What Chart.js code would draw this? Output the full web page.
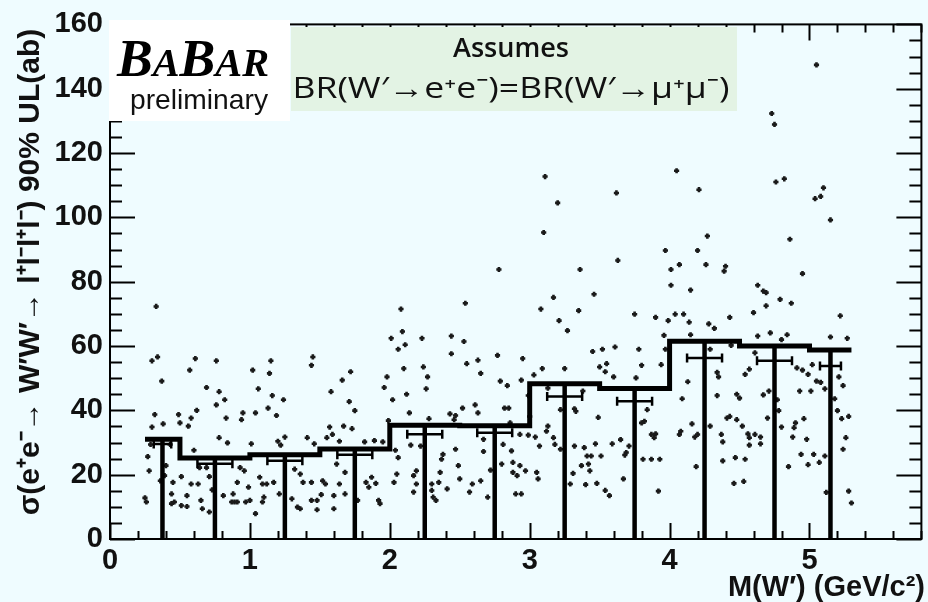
<!DOCTYPE html>
<html>
<head>
<meta charset="utf-8">
<script src="https://cdn.jsdelivr.net/npm/chart.js@4.4.1/dist/chart.umd.min.js"></script>
<style>
  html, body { margin: 0; padding: 0; background: #effcff; }
  #wrap { width: 928px; height: 602px; }
</style>
</head>
<body>
<div id="wrap"><canvas id="chart" width="928" height="602"></canvas></div>
<script>
// bin edges of M(W') in GeV/c^2
const massBins = [0.25, 0.5, 1, 1.5, 2, 2.5, 3, 3.5, 4, 4.5, 5, 5.3];
// thick bars: 90% UL per bin (ab)
const binLimit = [31, 25.2, 26.2, 28, 35.4, 35.2, 48.3, 46.8, 61.5, 60, 58.8];
// thin bars: median per bin (ab)
const binMedian = [29.5, 23.4, 24.3, 26.2, 32.6, 33, 44.3, 42.8, 56.3, 55.4, 53.8];

// scanned points: mass (GeV/c^2) and limit (ab)
const scanMass = [
  0.33,0.30,0.34,0.37,0.32,0.38,0.30,0.27,0.28,0.25,0.26,0.57,0.61,0.69,0.62,0.58,0.56,0.49,0.50,0.60,
  0.51,0.45,0.44,0.44,0.51,0.55,0.55,0.58,0.63,0.64,0.69,0.71,0.65,0.66,0.71,0.73,0.76,0.78,0.82,0.76,
  0.83,0.78,0.84,0.81,0.87,0.89,0.91,0.88,0.94,0.95,0.93,0.96,0.91,0.99,0.97,1.00,1.04,1.02,1.06,1.04,
  1.01,1.07,1.09,1.12,1.10,1.09,1.15,1.14,1.16,1.24,1.13,1.19,1.20,1.22,1.25,1.17,1.21,1.32,1.36,1.30,
  1.34,1.36,0.39,0.36,0.46,0.40,0.29,0.43,
  2.08,1.45,1.44,1.72,1.66,1.58,1.71,1.75,1.67,1.73,1.57,1.59,1.55,1.41,1.46,1.64,1.82,1.89,1.95,1.99,
  2.01,2.09,2.11,2.06,2.10,1.98,1.96,2.02,2.12,2.14,2.23,2.24,2.27,2.26,2.28,2.44,2.53,2.54,2.44,2.55,
  2.63,2.65,2.61,2.63,2.52,2.43,2.47,2.46,2.06,2.04,2.15,2.22,2.38,2.37,2.47,2.49,2.67,2.72,2.67,1.38,
  1.44,1.52,1.54,1.62,1.68,1.64,1.51,1.48,1.44,1.48,1.60,1.68,1.60,1.83,1.85,1.87,1.90,1.92,1.93,2.03,
  2.05,2.19,2.17,2.19,2.17,2.30,2.31,2.33,2.30,2.35,2.36,2.41,2.50,2.59,2.57,2.65,2.70,1.77,
  3.17,3.46,3.08,3.35,3.21,3.27,3.75,3.90,3.99,4.04,3.96,2.77,2.95,3.09,3.03,3.25,3.45,3.52,3.61,3.78,
  3.97,3.50,3.55,3.54,3.60,3.76,3.80,3.94,2.79,2.84,2.94,2.99,3.32,3.33,3.22,3.49,3.84,3.82,3.80,2.82,
  2.85,3.00,2.86,2.93,2.99,3.04,3.13,3.12,3.17,3.18,3.07,2.81,2.87,3.22,3.32,3.39,3.47,3.41,3.44,3.51,
  3.59,3.65,3.71,3.69,3.68,3.87,3.89,3.90,3.81,3.87,3.93,2.80,2.88,2.93,2.97,2.88,2.91,3.05,3.06,2.90,
  2.94,3.37,3.42,3.43,3.31,3.29,3.40,3.48,3.54,3.57,3.67,3.92,3.13,3.38,
  4.69,4.79,4.87,4.69,4.60,4.43,4.10,4.14,4.28,4.32,5.22,4.15,4.63,4.72,4.84,4.80,5.15,5.27,4.44,4.61,
  4.29,4.57,4.54,4.34,4.35,4.91,4.95,4.99,5.02,5.05,5.08,5.11,5.21,5.24,4.13,4.09,4.34,4.48,4.50,4.67,
  4.71,4.77,4.78,4.93,5.01,5.18,5.20,5.23,5.28,4.43,4.41,4.48,4.52,4.29,4.16,4.08,4.07,4.18,4.20,4.37,
  4.38,4.56,4.57,4.61,4.65,4.65,4.57,4.70,4.80,4.90,4.96,4.88,4.89,4.98,5.26,5.24,4.94,5.03,5.07,4.99,
  5.11,4.19,4.38,4.47,4.54,4.85,4.46,4.53,5.12,5.28,5.30,
  5.05,4.73,4.75,4.05,3.11,3.20,3.62,4.21,4.76,4.82,5.10,5.04,5.08,5.15,3.10,4.27,4.86,3.97,4.20,3.63,
  4.07,4.01,4.26,4.40,4.39,3.36,4.95,4.01,4.15,4.63,4.67,2.78
];
const scanLimit = [
  72.3,55.4,56.6,49.1,38.7,35.8,34.8,25.6,21.2,12.8,11.5,52.5,56.1,47.1,40.0,37.6,35.1,38.7,36.1,27.6,
  19.4,17.6,14.0,11.0,10.4,10.1,13.5,17.1,17.1,22.2,22.2,19.4,12.0,9.4,8.4,15.3,55.4,45.8,43.3,41.7,
  37.6,31.5,29.9,13.5,11.5,11.5,11.5,14.0,37.1,39.2,22.2,21.2,17.6,16.1,11.5,12.0,7.9,52.5,46.7,39.2,
  29.6,19.2,17.1,17.1,13.0,11.5,55.4,51.5,44.6,43.3,40.7,38.4,30.4,29.2,31.7,17.6,14.0,21.7,20.2,12.5,
  9.9,9.4,19.7,18.1,11.5,22.8,29.4,29.4,
  71.5,56.6,54.0,52.0,49.4,45.8,42.7,39.9,35.1,34.3,34.8,32.5,31.5,31.5,29.6,30.4,30.2,30.6,30.2,36.8,
  62.4,64.5,60.4,59.0,53.0,50.4,47.1,43.3,45.0,39.2,62.4,53.5,50.4,46.7,37.4,63.1,61.4,73.3,57.6,54.5,
  55.6,51.5,41.7,39.2,40.7,38.9,38.4,37.1,25.3,27.6,29.2,28.9,26.3,24.8,27.9,22.8,27.2,21.4,31.0,17.6,
  17.6,18.1,17.1,23.3,20.7,17.1,13.8,12.0,12.0,9.1,13.5,14.0,9.4,17.6,16.1,19.2,17.3,12.0,11.0,17.6,
  20.2,21.2,19.7,17.1,14.6,15.1,13.0,12.0,17.1,17.6,20.7,15.6,18.7,17.1,14.6,18.1,13.0,12.0,
  75.1,76.1,71.5,71.0,67.9,64.8,69.9,68.9,67.9,69.9,63.3,57.1,56.1,53.0,51.0,53.0,58.3,59.0,59.7,59.0,
  59.0,53.5,54.5,52.0,50.4,50.1,54.0,54.2,49.1,47.7,49.4,44.6,40.5,39.7,40.2,37.8,40.2,36.6,36.1,40.7,
  40.7,38.1,36.1,32.5,32.3,31.7,35.1,33.5,31.5,29.4,28.9,29.4,27.4,27.9,28.9,28.4,29.6,25.8,25.8,25.8,
  29.6,30.9,28.9,26.9,26.1,32.5,31.5,32.7,24.8,24.8,24.8,23.3,23.8,22.8,21.2,20.7,19.7,20.7,18.7,14.0,
  14.0,22.8,23.3,21.2,20.4,17.1,16.9,17.3,15.1,13.5,18.7,14.9,46.9,46.0,
  76.6,74.5,73.3,72.5,70.4,68.9,69.9,67.4,66.9,65.5,69.4,63.5,63.1,64.1,63.5,62.0,62.8,62.4,60.2,57.9,
  59.0,52.8,51.2,51.8,50.4,53.2,52.5,51.2,54.2,49.1,48.7,46.7,50.4,47.7,48.9,43.6,44.6,45.0,43.8,44.8,
  46.0,43.3,39.9,46.0,46.0,43.6,39.9,37.4,38.1,38.1,37.6,37.1,35.1,35.1,35.8,33.5,32.5,31.7,32.5,32.5,
  30.2,32.7,31.5,32.5,31.7,29.6,29.2,37.6,34.8,36.1,37.4,31.7,34.6,31.0,31.5,27.9,26.3,26.3,23.8,23.1,
  25.8,22.5,24.3,25.3,24.8,22.5,17.3,17.9,14.5,14.9,11.2,
  147.4,132.3,128.9,114.5,112.7,104.5,107.6,108.6,111.0,112.0,109.2,105.8,106.5,99.2,95.3,94.2,93.2,89.7,89.7,86.6,
  85.3,83.8,85.3,84.8,83.3,83.8,82.5,78.9,77.4,78.9,77.1,83.8
];

const xTickLabels = ['0', '1', '2', '3', '4', '5'];
const yTickLabels = ['0', '20', '40', '60', '80', '100', '120', '140', '160'];

const ink = '#111111';
const axisFont = { family: 'Liberation Sans, Arial, sans-serif', size: 29, weight: 'bold' };

// build the marks from the arrays
const points = scanMass.map((m, i) => ({ x: m, y: scanLimit[i] }));

const stepLine = [];
const stems = [];
const errBars = [];
for (let i = 0; i < binLimit.length; i++) {
  const lo = massBins[i], hi = massBins[i + 1];
  const c = (lo + hi) / 2, w = (hi - lo) / 4, m = binMedian[i];
  stepLine.push({ x: lo, y: binLimit[i] }, { x: hi, y: binLimit[i] });
  stems.push({ x: c, y: 0 }, { x: c, y: binLimit[i] }, { x: c, y: null });
  errBars.push(
    { x: c - w, y: m }, { x: c + w, y: m }, { x: c + w, y: null },
    { x: c - w, y: m - 1.4 }, { x: c - w, y: m + 1.4 }, { x: c - w, y: null },
    { x: c + w, y: m - 1.4 }, { x: c + w, y: m + 1.4 }, { x: c + w, y: null }
  );
}

function lineSet(data, width, order) {
  return {
    type: 'line', data: data, borderColor: '#000', borderWidth: width,
    pointRadius: 0, fill: false, tension: 0, spanGaps: false,
    borderCapStyle: 'butt', borderJoinStyle: 'miter', order: order
  };
}

// draw text squeezed/stretched to a given width
function fitText(ctx, text, cx, y, width) {
  const w = ctx.measureText(text).width;
  ctx.save();
  ctx.translate(cx, y);
  ctx.scale(width / w, 1);
  ctx.textAlign = 'center';
  ctx.fillText(text, 0, 0);
  ctx.restore();
}

// background, frame with inward ticks, boxes and titles
const decor = {
  id: 'decor',
  beforeDraw(chart) {
    const ctx = chart.ctx;
    ctx.save();
    ctx.fillStyle = '#effcff';
    ctx.fillRect(0, 0, chart.width, chart.height);
    ctx.restore();
  },
  afterDatasetsDraw(chart) {
    const ctx = chart.ctx, a = chart.chartArea;
    const xs = chart.scales.x, ys = chart.scales.y;
    ctx.save();
    ctx.strokeStyle = '#000';
    ctx.lineWidth = 2;
    ctx.strokeRect(a.left, a.top, a.right - a.left, a.bottom - a.top);
    ctx.beginPath();
    for (let k = 0; k <= 29; k++) {
      const v = k * 0.2;
      const px = Math.round(xs.getPixelForValue(v)) + 0.5;
      const len = k % 5 === 0 ? 16 : 8;
      ctx.moveTo(px, a.bottom); ctx.lineTo(px, a.bottom - len);
      ctx.moveTo(px, a.top); ctx.lineTo(px, a.top + len);
    }
    for (let v = 0; v <= 160; v += 5) {
      const py = Math.round(ys.getPixelForValue(v)) + 0.5;
      const len = v % 20 === 0 ? 25 : 12;
      ctx.moveTo(a.left, py); ctx.lineTo(a.left + len, py);
      ctx.moveTo(a.right, py); ctx.lineTo(a.right - len, py);
    }
    ctx.stroke();
    ctx.restore();
  },
  afterDraw(chart) {
    const ctx = chart.ctx, a = chart.chartArea;
    ctx.save();
    // BaBar logo box
    ctx.fillStyle = '#ffffff';
    ctx.fillRect(a.left - 1, 20, 291 - a.left, 101);
    ctx.fillStyle = '#000';
    ctx.textBaseline = 'alphabetic';
    const parts = [['B', 52], ['A', 39], ['B', 52], ['A', 39], ['R', 39]];
    let tx = 0;
    parts.forEach(p => {
      ctx.font = 'italic bold ' + p[1] + 'px "Liberation Serif", "Times New Roman", serif';
      tx += ctx.measureText(p[0]).width;
    });
    ctx.save();
    ctx.translate(117, 76);
    ctx.scale(152 / tx, 1);
    let cx = 0;
    parts.forEach(p => {
      ctx.font = 'italic bold ' + p[1] + 'px "Liberation Serif", "Times New Roman", serif';
      ctx.fillText(p[0], cx, 0);
      cx += ctx.measureText(p[0]).width;
    });
    ctx.restore();
    ctx.font = '28px "Liberation Sans", Arial, sans-serif';
    ctx.fillStyle = ink;
    fitText(ctx, 'preliminary', 199, 109, 138);

    // assumption box
    ctx.fillStyle = '#e3f3e4';
    ctx.fillRect(291, 27, 446, 84);
    ctx.fillStyle = ink;
    ctx.font = '600 27px "Open Sans", "Noto Sans", sans-serif';
    fitText(ctx, 'Assumes', 511, 57, 116);
    ctx.font = '500 30px "Open Sans", "Noto Sans", sans-serif';
    fitText(ctx, 'BR(W\u2032\u2192e\u207Ae\u207B)=BR(W\u2032\u2192\u03BC\u207A\u03BC\u207B)', 511, 98, 437);

    // axis titles
    ctx.font = 'bold 29px "Liberation Sans", Arial, sans-serif';
    ctx.textAlign = 'right';
    ctx.textBaseline = 'middle';
    ctx.fillText('M(W\u2032) (GeV/c\u00B2)', 925, 588, 210);
    ctx.save();
    ctx.translate(31, 272);
    ctx.rotate(-Math.PI / 2);
    ctx.textAlign = 'center';
    ctx.font = 'bold 30px "Liberation Sans", Arial, sans-serif';
    ctx.fillText('\u03C3(e\u207Ae\u207B\u2192 W\u2032W\u2032\u2192 l\u207Al\u207Bl\u207Al\u207B) 90% UL(ab)', 0, 0, 512);
    ctx.restore();
    ctx.restore();
  }
};

new Chart(document.getElementById('chart'), {
  type: 'scatter',
  data: {
    datasets: [
      {
        label: 'scan', data: points, pointStyle: 'cross', pointRadius: 2.6,
        borderColor: '#1a1a1a', backgroundColor: '#1a1a1a', borderWidth: 2.6, order: 5
      },
      lineSet(stems, 4.5, 3),
      lineSet(errBars, 2.5, 2),
      lineSet(stepLine, 5, 1)
    ]
  },
  options: {
    responsive: false,
    animation: false,
    devicePixelRatio: 1,
    layout: { padding: { top: 17, right: 3, left: 0, bottom: 0 } },
    plugins: { legend: { display: false }, tooltip: { enabled: false } },
    scales: {
      x: {
        type: 'linear', min: 0, max: 5.8,
        grid: { display: false, drawTicks: false }, border: { display: false },
        ticks: {
          stepSize: 1, includeBounds: false, padding: 5, color: ink, font: axisFont,
          maxRotation: 0, autoSkip: false,
          callback: v => xTickLabels[Math.round(v)] !== undefined && Math.abs(v - Math.round(v)) < 1e-6 ? xTickLabels[Math.round(v)] : ''
        },
        afterFit: s => { s.height = 63; }
      },
      y: {
        type: 'linear', min: 0, max: 160,
        grid: { display: false, drawTicks: false }, border: { display: false },
        ticks: {
          stepSize: 20, padding: 7, color: ink, font: axisFont,
          callback: v => yTickLabels[Math.round(v / 20)]
        },
        afterFit: s => { s.width = 110; }
      }
    }
  },
  plugins: [decor]
});
</script>
</body>
</html>
